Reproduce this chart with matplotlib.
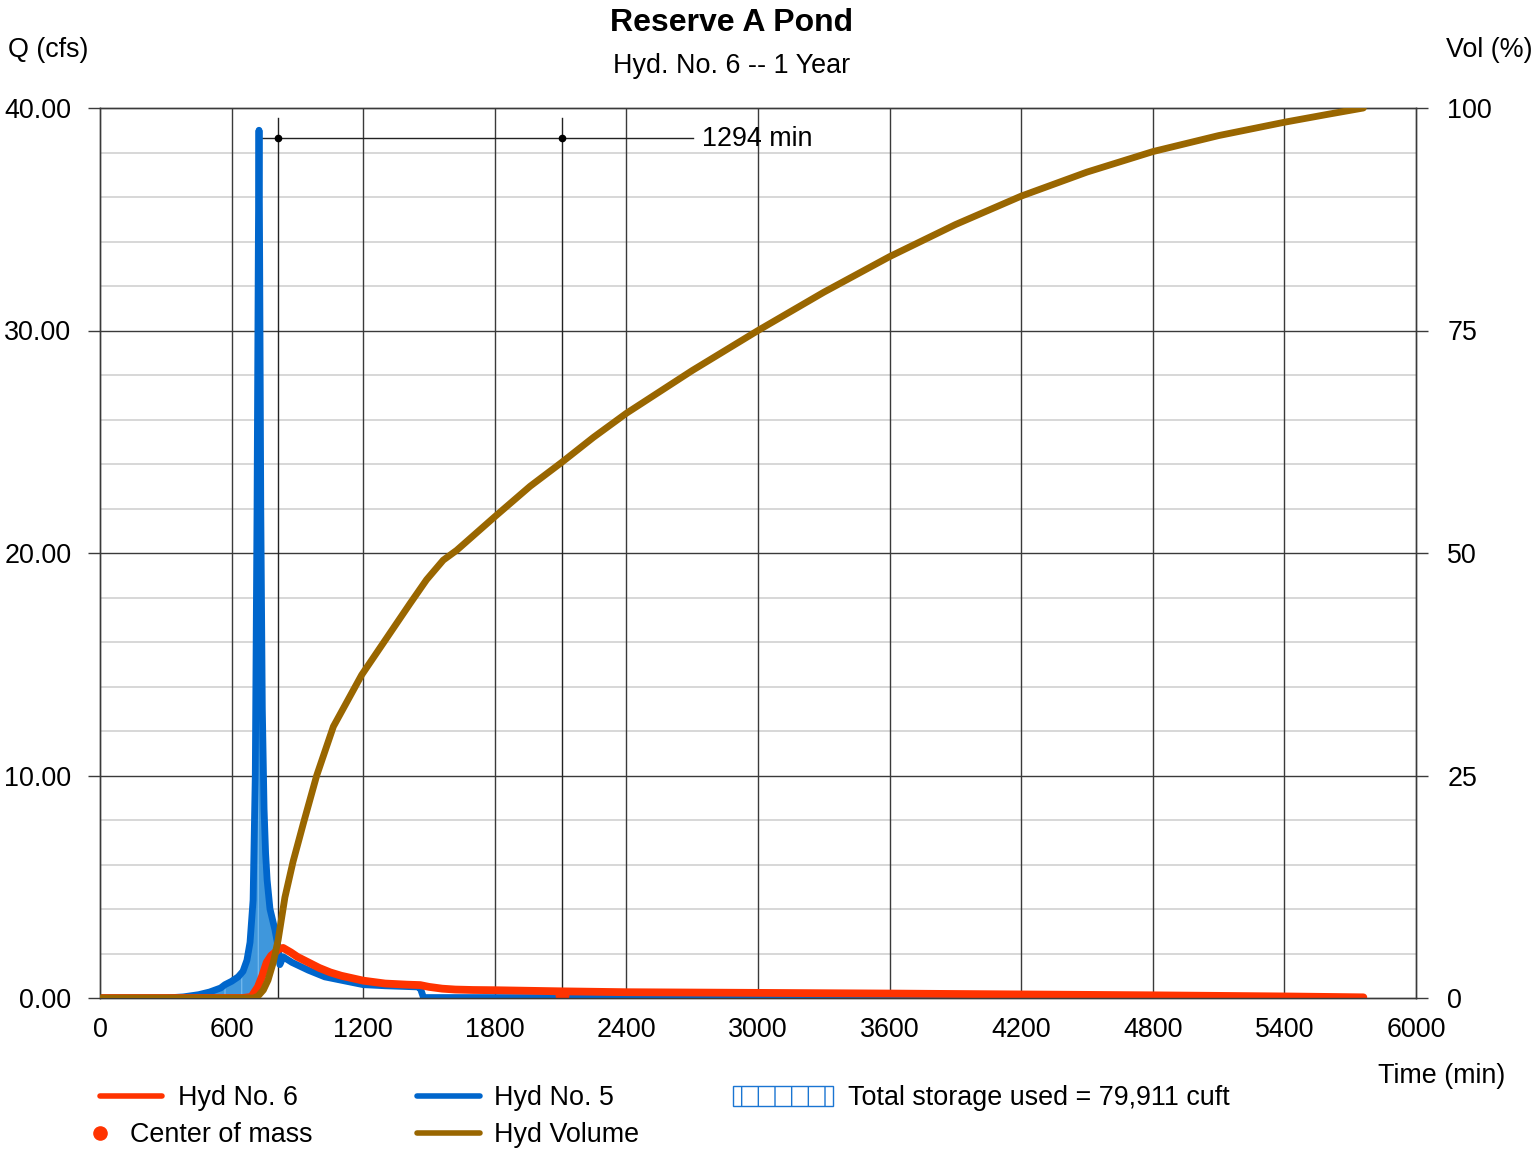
import matplotlib
matplotlib.use("Agg")
import matplotlib.pyplot as plt
from matplotlib.lines import Line2D
from matplotlib.patches import Rectangle
import numpy as np

plt.rcParams['font.family'] = ['Liberation Sans', 'DejaVu Sans']
plt.rcParams['hatch.linewidth'] = 1.0

# ---------------- data ----------------
# Hyd No. 5 (inflow), time in min, Q in cfs
t5 = [0, 300, 380, 450, 500, 550, 570, 600, 630, 652, 670, 684, 698, 708, 716, 722,
      725, 728, 733, 740, 748, 755, 762, 775, 798, 812, 820, 835, 875, 950, 1025,
      1100, 1200, 1300, 1445, 1460, 1475, 2000, 3000, 4000, 5000, 5760]
q5 = [0, 0, 0.05, 0.15, 0.27, 0.45, 0.6, 0.75, 0.95, 1.2, 1.7, 2.5, 4.4, 10, 22, 34,
      39.0, 33, 22, 13, 8.5, 6.5, 5.3, 4.0, 3.05, 2.3, 1.5, 1.85, 1.6, 1.25, 0.95,
      0.8, 0.6, 0.55, 0.5, 0.45, 0.02, 0.02, 0.02, 0.02, 0.02, 0.02]

# Hyd No. 6 (outflow)
t6 = [0, 650, 690, 720, 740, 760, 780, 798, 815, 835, 870, 900, 950, 1000, 1050, 1100,
      1200, 1300, 1400, 1460, 1500, 1560, 1620, 1700, 1800, 2100, 2400, 3000, 3600,
      4200, 4800, 5400, 5760]
q6 = [0, 0, 0.05, 0.5, 1.0, 1.6, 1.9, 2.05, 2.2, 2.25, 2.05, 1.85, 1.6, 1.35, 1.15, 1.0,
      0.78, 0.65, 0.6, 0.58, 0.5, 0.42, 0.38, 0.36, 0.35, 0.3, 0.26, 0.23, 0.2,
      0.16, 0.12, 0.07, 0.03]

# Hyd Volume (%)
tv = [0, 700, 720, 745, 766, 790, 812, 843, 880, 927, 988, 1064, 1193, 1292, 1413, 1489,
      1565, 1626, 1801, 1961, 2106, 2250, 2400, 2700, 3000, 3300, 3600, 3900, 4200,
      4500, 4800, 5100, 5400, 5600, 5760]
vol = [0, 0, 0.2, 0.9, 2, 4.0, 6.5, 11.3, 15.3, 19.6, 25.0, 30.5, 36.3, 39.9, 44.3, 47.0,
       49.2, 50.3, 54.1, 57.5, 60.2, 63, 65.7, 70.5, 75, 79.3, 83.3, 86.9, 90.1,
       92.8, 95.1, 96.9, 98.4, 99.3, 100]

peak_t = 812        # peak of Hyd No. 6
com_t = 2106        # center of mass time
com_q = 0.15
marker_q = 38.65
lag_label = "1294 min"
storage_label = "Total storage used = 79,911 cuft"

x_ticks = [0, 600, 1200, 1800, 2400, 3000, 3600, 4200, 4800, 5400, 6000]
q_ticks = [0, 10, 20, 30, 40]
q_tick_labels = ["0.00", "10.00", "20.00", "30.00", "40.00"]
v_ticks = [0, 25, 50, 75, 100]

RED = '#ff3300'
BLUE = '#0066cc'
BROWN = '#996600'
FILL = '#3f97dc'
GRID = '#3a3a3a'
FS = 19.4

W, H = 1537, 1149
fig = plt.figure(figsize=(W / 100, H / 100), dpi=100)
L, R, B, T = 100, 1416, 998, 108
ax = fig.add_axes([L / W, 1 - B / H, (R - L) / W, (B - T) / H])

ax.set_xlim(0, 6000)
ax.set_ylim(0, 40)

# grid
for x in x_ticks[1:-1]:
    ax.axvline(x, color=GRID, lw=1.0, zorder=1)
for y in np.arange(2, 40, 2):
    if y % 10 != 0:
        ax.axhline(y, color='#d4d4d4', lw=1.3, zorder=0.5)
for y in q_ticks[1:-1]:
    ax.axhline(y, color=GRID, lw=1.0, zorder=1)

# storage fill: blue above red, up to crossing
tb = [t for t in t5 if t <= 815]
qb = [q for t, q in zip(t5, q5) if t <= 815]
tr = [t for t in t6 if t <= 815]
qr = [q for t, q in zip(t6, q6) if t <= 815]
poly_x = tb + tr[::-1]
poly_y = qb + qr[::-1]
ax.fill(poly_x, poly_y, facecolor=FILL, edgecolor='#6fb6ec', hatch='|', lw=0, zorder=2)

ax.plot(t5, q5, color=BLUE, lw=4.9, solid_capstyle='round', solid_joinstyle='round', zorder=3)
ax.plot(t6, q6, color=RED, lw=5.6, solid_capstyle='round', solid_joinstyle='round', zorder=4)
ax.plot([com_t], [com_q], 'o', color=RED, ms=9, zorder=5)

# lag annotation
ax.plot([peak_t, peak_t], [0, 39.55], color='#222222', lw=1.0, zorder=2.5)
ax.plot([com_t, com_t], [0, 39.55], color='#222222', lw=1.0, zorder=2.5)
ax.plot([735, 2704], [marker_q, marker_q], color='#222222', lw=1.0, zorder=2.5)
ax.plot([peak_t, com_t], [marker_q, marker_q], 'o', color='black', ms=4.5, zorder=6)
ax.text(2745, marker_q - 0.05, lag_label, fontsize=FS, va='center', ha='left', zorder=6)

ax.set_xticks(x_ticks)
ax.set_xticklabels([str(x) for x in x_ticks], fontsize=FS)
ax.set_yticks(q_ticks)
ax.set_yticklabels(q_tick_labels, fontsize=FS)
ax.tick_params(axis='x', length=0, pad=14)
ax.tick_params(axis='y', length=8.6, width=1.0, pad=12, color=GRID, direction='out')
for s in ax.spines.values():
    s.set_color(GRID)
    s.set_linewidth(1.0)

ax2 = ax.twinx()
ax2.set_ylim(0, 100)
ax2.set_yticks(v_ticks)
ax2.set_yticklabels([str(v) for v in v_ticks], fontsize=FS)
ax2.tick_params(axis='y', length=8.6, width=1.0, pad=14, color=GRID, direction='out')
for s in ax2.spines.values():
    s.set_color(GRID)
    s.set_linewidth(1.0)
ax2.plot(tv, vol, color=BROWN, lw=4.9, solid_capstyle='round', solid_joinstyle='round', zorder=5)

def fx(px):
    return px / W

def fy(py):
    return 1 - py / H

# titles and axis labels
fig.text(fx(732), fy(23), "Reserve A Pond", fontsize=23, fontweight='bold', ha='center', va='center')
fig.text(fx(732), fy(66), "Hyd. No. 6 -- 1 Year", fontsize=FS, ha='center', va='center')
fig.text(fx(8), fy(50), "Q (cfs)", fontsize=FS, ha='left', va='center')
fig.text(fx(1533), fy(50), "Vol (%)", fontsize=FS, ha='right', va='center')
fig.text(fx(1505), fy(1076), "Time (min)", fontsize=FS, ha='right', va='center')

# legend
def leg_line(x0, x1, y, color):
    fig.add_artist(Line2D([fx(x0), fx(x1)], [fy(y), fy(y)], color=color, lw=4.0,
                          solid_capstyle='round', transform=fig.transFigure))

leg_line(100, 162, 1096, RED)
fig.text(fx(178), fy(1098), "Hyd No. 6", fontsize=FS, ha='left', va='center')
fig.add_artist(Line2D([fx(100)], [fy(1133)], marker='o', color=RED, ms=9.5, lw=0,
                      transform=fig.transFigure))
fig.text(fx(130), fy(1135), "Center of mass", fontsize=FS, ha='left', va='center')
leg_line(417, 480, 1096, BLUE)
fig.text(fx(494), fy(1098), "Hyd No. 5", fontsize=FS, ha='left', va='center')
leg_line(417, 480, 1133, BROWN)
fig.text(fx(494), fy(1135), "Hyd Volume", fontsize=FS, ha='left', va='center')
fig.add_artist(Rectangle((fx(733), fy(1106)), fx(833) - fx(733), fy(1086) - fy(1106),
                         facecolor='white', edgecolor='#1a75d2', hatch='|', lw=1.0,
                         transform=fig.transFigure))
fig.text(fx(848), fy(1098), storage_label, fontsize=FS, ha='left', va='center')

fig.savefig("out.png", dpi=100)
